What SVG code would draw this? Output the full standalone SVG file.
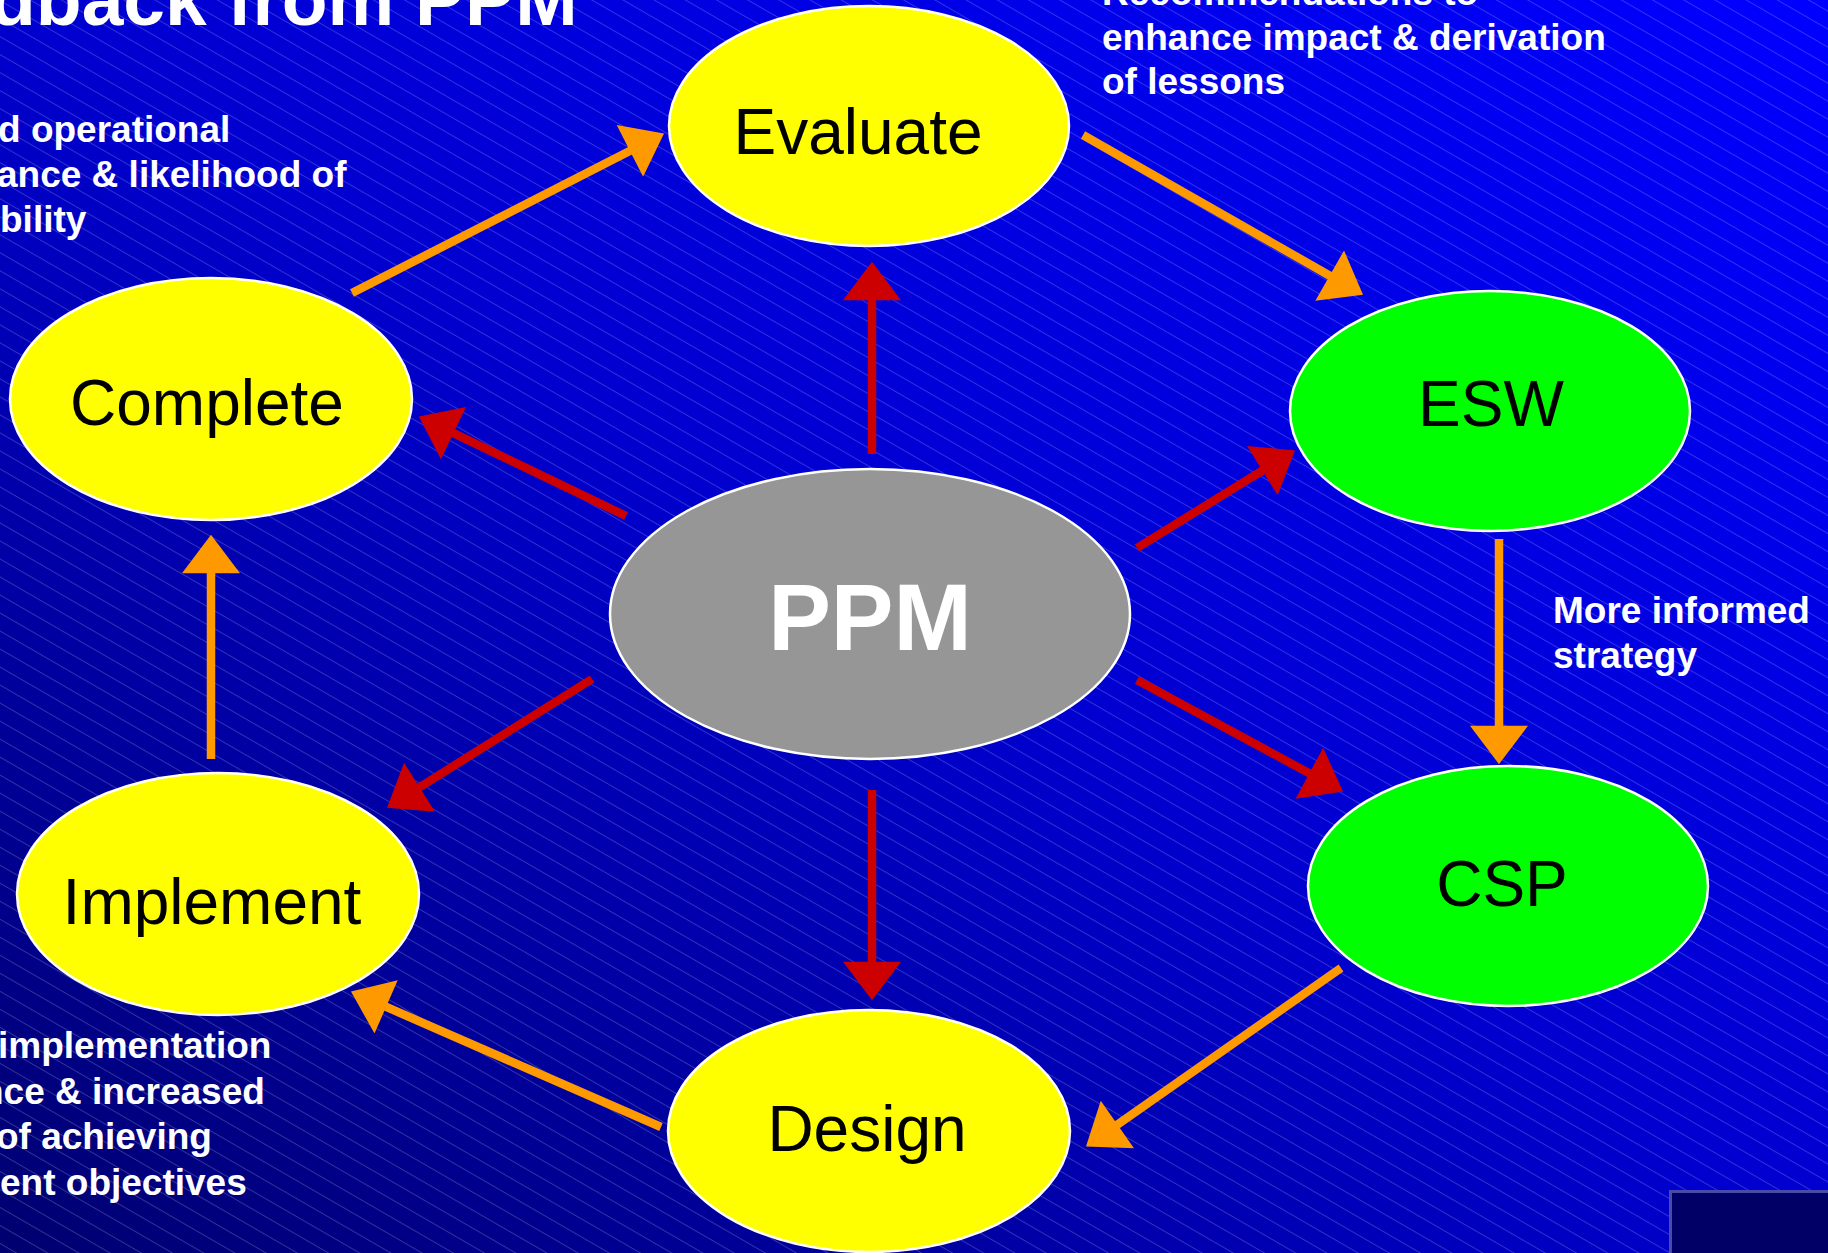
<svg xmlns="http://www.w3.org/2000/svg" width="1828" height="1253" viewBox="0 0 1828 1253">
  <defs>
    <linearGradient id="bg" x1="0" y1="1" x2="1" y2="0">
      <stop offset="0" stop-color="#000070"/>
      <stop offset="0.5" stop-color="#0000cf"/>
      <stop offset="1" stop-color="#0000ff"/>
    </linearGradient>
    <pattern id="hatch" patternUnits="userSpaceOnUse" width="20" height="15.6" patternTransform="rotate(30)">
      <line x1="0" y1="0.5" x2="20" y2="0.5" stroke="#ffffff" stroke-opacity="0.2" stroke-width="1"/>
    </pattern>
    <marker id="headOrange" markerUnits="userSpaceOnUse" markerWidth="40" markerHeight="58" viewBox="0 0 37 56" refX="4" refY="28" orient="auto">
      <path d="M0,0 L37,28 L0,56 Z" fill="#ff9900"/>
    </marker>
    <marker id="headRed" markerUnits="userSpaceOnUse" markerWidth="40" markerHeight="58" viewBox="0 0 37 56" refX="4" refY="28" orient="auto">
      <path d="M0,0 L37,28 L0,56 Z" fill="#cc0000"/>
    </marker>
    <style>
      .node { stroke: #ffffff; stroke-width: 2.5; }
      .yellow { fill: #ffff00; }
      .green { fill: #00ff00; }
      .grey { fill: #969696; }
      .label { font-family: "Liberation Sans", Arial, sans-serif; font-size: 64px; fill: #000000; text-anchor: middle; }
      .big { font-family: "Liberation Sans", Arial, sans-serif; font-size: 94px; font-weight: bold; fill: #ffffff; text-anchor: middle; }
      .note { font-family: "Liberation Sans", Arial, sans-serif; font-size: 37px; font-weight: bold; fill: #ffffff; }
      .title { font-family: "Liberation Sans", Arial, sans-serif; font-size: 75px; font-weight: bold; fill: #ffffff; }
      .orange { stroke: #ff9900; stroke-width: 8.5; fill: none; marker-end: url(#headOrange); }
      .red { stroke: #cc0000; stroke-width: 8.5; fill: none; marker-end: url(#headRed); }
    </style>
  </defs>

  <!-- backdrop: diagonal blue gradient with fine hatching -->
  <rect x="0" y="0" width="1828" height="1253" fill="url(#bg)"/>
  <rect x="0" y="0" width="1828" height="1253" fill="url(#hatch)"/>

  <!-- corner panel -->
  <rect x="1670.5" y="1191.5" width="170" height="70" fill="#000066" stroke="#4a4aa8" stroke-width="3"/>

  <!-- heading and side notes -->
  <text class="title" x="-10" y="25">dback from PPM</text>

  <g id="note-top-left">
    <text class="note" x="-2" y="142">d operational</text>
    <text class="note" x="-3" y="187">ance &amp; likelihood of</text>
    <text class="note" x="0" y="232">bility</text>
  </g>

  <g id="note-top-right">
    <text class="note" x="1102" y="5">Recommendations to</text>
    <text class="note" x="1102" y="50">enhance impact &amp; derivation</text>
    <text class="note" x="1102" y="94">of lessons</text>
  </g>

  <g id="note-right">
    <text class="note" x="1553" y="623">More informed</text>
    <text class="note" x="1553" y="668">strategy</text>
  </g>

  <g id="note-bottom-left">
    <text class="note" x="-2" y="1058"> implementation</text>
    <text class="note" x="-19" y="1104">nce &amp; increased</text>
    <text class="note" x="-4" y="1149"> of achieving</text>
    <text class="note" x="0" y="1195">ent objectives</text>
  </g>

  <!-- connectors -->
  <g id="connectors">
    <!-- outer cycle -->
    <line class="orange" x1="352" y1="293" x2="633.6" y2="149"/>
    <line class="orange" x1="1083" y1="135" x2="1333.3" y2="277.7"/>
    <line class="orange" x1="1499" y1="539" x2="1499" y2="730"/>
    <line class="orange" x1="1341" y1="968" x2="1114" y2="1127"/>
    <line class="orange" x1="661" y1="1127" x2="382.3" y2="1005.2"/>
    <line class="orange" x1="211" y1="759" x2="211" y2="569"/>
    <!-- spokes from PPM -->
    <line class="red" x1="872" y1="454" x2="872" y2="296"/>
    <line class="red" x1="626" y1="516" x2="449.7" y2="431.3"/>
    <line class="red" x1="1137" y1="548" x2="1265.9" y2="468.4"/>
    <line class="red" x1="1137" y1="680" x2="1313" y2="775.3"/>
    <line class="red" x1="592" y1="679" x2="416" y2="789.5"/>
    <line class="red" x1="872" y1="790" x2="872" y2="966"/>
  </g>

  <!-- nodes -->
  <g id="evaluate">
    <ellipse class="node yellow" cx="869" cy="126" rx="200" ry="120"/>
    <text class="label" x="858" y="154">Evaluate</text>
  </g>
  <g id="complete">
    <ellipse class="node yellow" cx="211" cy="399" rx="201" ry="121"/>
    <text class="label" x="207" y="425">Complete</text>
  </g>
  <g id="esw">
    <ellipse class="node green" cx="1490" cy="411" rx="200" ry="120"/>
    <text class="label" x="1491" y="426">ESW</text>
  </g>
  <g id="ppm">
    <ellipse class="node grey" cx="870" cy="614" rx="260" ry="145"/>
    <text class="big" x="870" y="650">PPM</text>
  </g>
  <g id="implement">
    <ellipse class="node yellow" cx="218" cy="894" rx="201" ry="121"/>
    <text class="label" x="212" y="924">Implement</text>
  </g>
  <g id="csp">
    <ellipse class="node green" cx="1508" cy="886" rx="200" ry="120"/>
    <text class="label" x="1502" y="906">CSP</text>
  </g>
  <g id="design">
    <ellipse class="node yellow" cx="869" cy="1131" rx="201" ry="121"/>
    <text class="label" x="867" y="1151">Design</text>
  </g>
</svg>
